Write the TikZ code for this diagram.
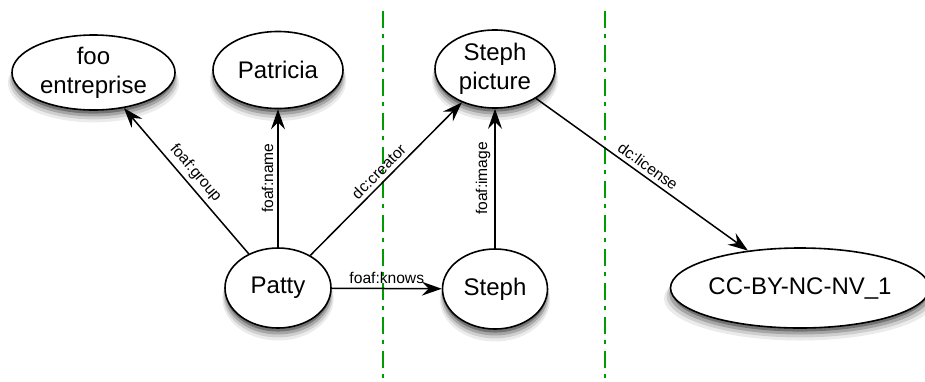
\documentclass[tikz,border=0pt]{standalone}
\usepackage{fontspec}
\setmainfont{Liberation Sans}
\usetikzlibrary{shapes, arrows.meta, positioning, shadows}

\definecolor{divgreen}{RGB}{0,155,0}

\begin{document}
\begin{tikzpicture}[x=0.5pt, y=-0.5pt, >=Stealth]
    % Define the styles
    \tikzset{
        soft shadow/.style = {
            general shadow={fill=black, opacity=0.08, shadow yshift=-5pt, shadow scale=1.05},
            general shadow={fill=black, opacity=0.12, shadow yshift=-4pt, shadow scale=1.03},
            general shadow={fill=black, opacity=0.2, shadow yshift=-3pt, shadow scale=1.01},
            general shadow={fill=black, opacity=0.3, shadow yshift=-2pt, shadow scale=0.99}},
        res/.style = {draw, ellipse, fill=white, line width=0.8pt, inner sep=0pt, align=center,
            font=\fontsize{12}{14.5}\selectfont, soft shadow},
        line/.style = {draw, line width=0.75pt, -{Stealth[length=10pt, width=7pt, inset=3.5pt]}},
        prop/.style = {font=\fontsize{7.8}{9}\selectfont, sloped, above, midway, inner sep=2pt},
        divider/.style = {draw=divgreen, line width=1pt, dash pattern=on 8.5pt off 3pt on 2pt off 3.5pt},
    }

    \useasboundingbox (0,0) rectangle (925,381);

    % Domain separators
    \draw [divider] (383,11) -- (383,381);
    \draw [divider] (605,11) -- (605,381);

    % Nodes placement
    \node [res, minimum width=81.5pt, minimum height=37.5pt] (foo) at (93.5,72.5) {foo\\entreprise};
    \node [res, minimum width=65pt, minimum height=38.5pt] (patricia) at (278,70) {Patricia};
    \node [res, minimum width=60pt, minimum height=39pt] (picture) at (495,69) {Steph\\picture};
    \node [res, minimum width=53pt, minimum height=40pt] (patty) at (278,288) {Patty};
    \node [res, minimum width=52.5pt, minimum height=40pt] (steph) at (495,289) {Steph};
    \node [res, minimum width=125pt, minimum height=40pt] (license) at (800,288) {CC-BY-NC-NV\_1};

    % Connecting lines
    \draw [line] (patty) -- node [prop] {foaf:group} (foo);
    \draw [line] (patty) -- node [prop] {foaf:name} (patricia);
    \draw [line] (patty) -- node [prop] {dc:creator} (picture);
    \draw [line] (patty) -- node [prop] {foaf:knows} (steph);
    \draw [line] (steph) -- node [prop] {foaf:image} (picture);
    \draw [line] (picture) -- node [prop] {dc:license} (license);

\end{tikzpicture}
\end{document}
